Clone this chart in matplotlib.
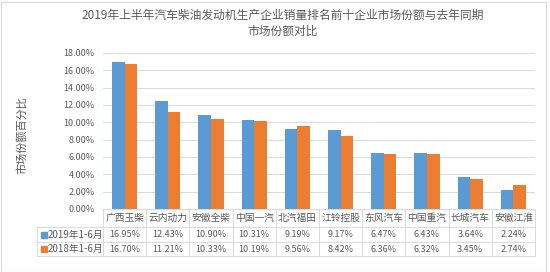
import matplotlib
matplotlib.use("Agg")
import matplotlib.pyplot as plt
from matplotlib.patches import Rectangle
from matplotlib.lines import Line2D
import numpy as np

plt.rcParams['font.family'] = ['Noto Sans CJK SC', 'DejaVu Sans']

companies = ["广西玉柴", "云内动力", "安徽全柴", "中国一汽", "北汽福田",
             "江铃控股", "东风汽车", "中国重汽", "长城汽车", "安徽江淮"]
share_2019 = [16.95, 12.43, 10.90, 10.31, 9.19, 9.17, 6.47, 6.43, 3.64, 2.24]
share_2018 = [16.70, 11.21, 10.33, 10.19, 9.56, 8.42, 6.36, 6.32, 3.45, 2.74]
series_names = ["2019年1-6月", "2018年1-6月"]
colors = ["#5B9BD5", "#ED7D31"]
TXT = "#595959"
GRID = "#D9D9D9"

W, H = 550, 272
fig = plt.figure(figsize=(W / 100, H / 100), dpi=100)
# plot area in pixels: x 103..535, y 53..209
ax = fig.add_axes([103 / W, 1 - 209 / H, (535 - 103) / W, (209 - 53) / H])

x = np.arange(len(companies))
bw = 0.29
ax.bar(x - bw / 2, share_2019, bw, color=colors[0], zorder=3)
ax.bar(x + bw / 2, share_2018, bw, color=colors[1], zorder=3)

ax.set_xlim(-0.5, len(companies) - 0.5)
ax.set_ylim(0, 18)
ax.set_yticks(np.arange(0, 19, 2))
ax.set_yticklabels([f"{v:.2f}%" for v in np.arange(0, 19, 2)], fontsize=6.5, color=TXT)
ax.set_xticks([])
ax.tick_params(axis="y", length=0, pad=6)
ax.grid(axis="y", color=GRID, lw=0.7, zorder=0)
for s in ["top", "right", "left"]:
    ax.spines[s].set_visible(False)
ax.spines["bottom"].set_color(GRID)

fig.text(22 / W, 1 - 135 / H, "市场份额百分比", rotation=90, ha="center", va="center",
         fontsize=8, color=TXT)
fig.text(283 / W, 1 - 15 / H, "2019年上半年汽车柴油发动机生产企业销量排名前十企业市场份额与去年同期",
         ha="center", va="center", fontsize=8.5, color=TXT)
fig.text(283 / W, 1 - 31 / H, "市场份额对比", ha="center", va="center", fontsize=8.5, color=TXT)

# data table under the axis (pixel rows -> axes fraction)
def yf(p):
    return (209 - p) / 156.0

trans = ax.get_xaxis_transform()
r0, r1, r2, r3 = 209, 227, 242, 256
left = -0.5 - 66 / 43.2
for b in np.arange(-0.5, len(companies), 1.0):
    ax.add_line(Line2D([b, b], [yf(r0), yf(r3)], transform=trans, color=GRID, lw=0.7, clip_on=False))
ax.add_line(Line2D([left, left], [yf(r1), yf(r3)], transform=trans, color=GRID, lw=0.7, clip_on=False))
for r in (r1, r2, r3):
    ax.add_line(Line2D([left, len(companies) - 0.5], [yf(r), yf(r)], transform=trans,
                       color=GRID, lw=0.7, clip_on=False))

for i, name in enumerate(companies):
    ax.text(i, yf((r0 + r1) / 2), name, transform=trans, ha="center", va="center",
            fontsize=7, color=TXT, clip_on=False)
    ax.text(i, yf((r1 + r2) / 2), f"{share_2019[i]:.2f}%", transform=trans, ha="center",
            va="center", fontsize=6.5, color=TXT, clip_on=False)
    ax.text(i, yf((r2 + r3) / 2), f"{share_2018[i]:.2f}%", transform=trans, ha="center",
            va="center", fontsize=6.5, color=TXT, clip_on=False)

for k, (rt, rb) in enumerate([(r1, r2), (r2, r3)]):
    yc = (rt + rb) / 2
    fig.patches.append(Rectangle((41 / W, 1 - (yc + 3) / H), 6 / W, 6 / H,
                                 transform=fig.transFigure, color=colors[k]))
    fig.text(48 / W, 1 - yc / H, series_names[k], ha="left", va="center", fontsize=7, color=TXT)

fig.patches.append(Rectangle((0.5 / W, 0.5 / H), (W - 5) / W, (H - 2) / H, transform=fig.transFigure,
                             fill=False, edgecolor="#D9D9D9", lw=0.8))

fig.savefig("out.png", dpi=100)
